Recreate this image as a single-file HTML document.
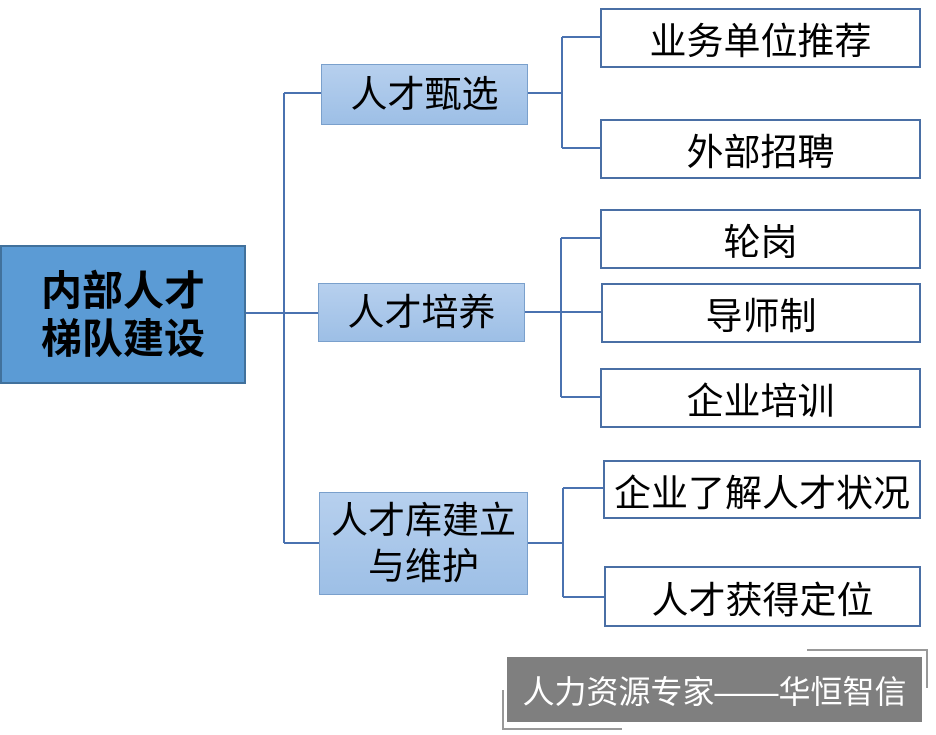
<!DOCTYPE html>
<html><head><meta charset="utf-8"><style>
body{margin:0;width:936px;height:735px;background:#fff;position:relative;overflow:hidden;font-family:"Liberation Sans","Noto Sans CJK SC",sans-serif;}
.b{position:absolute;box-sizing:border-box;display:flex;align-items:center;justify-content:center;text-align:center;color:#000;white-space:nowrap;}
.root{background:#5b9bd5;border:2px solid #41719c;font-weight:bold;font-size:41px;line-height:48px;}
.mid{background:linear-gradient(#b7d0ee,#9dbfe6);border:1.5px solid #7aa0cc;font-size:37px;line-height:46px;}
.leaf{background:#fff;border:2px solid #4a6fa5;font-size:37px;}
</style></head><body>
<svg width="936" height="735" style="position:absolute;left:0;top:0" fill="none" stroke="#4a72b0" stroke-width="2">
<path d="M245 313H318M284 93V543M284 93H321M284 543H319"/>
<path d="M527 93H562M562 37V148M562 37H600M562 148H600"/>
<path d="M524 312H561M561 238V397M561 238H600M561 312H601M561 397H600"/>
<path d="M527 543H563M563 488V597M563 488H603M563 597H604"/>
</svg>
<div class="b root" style="left:0;top:245px;width:246px;height:139px;">内部人才<br>梯队建设</div>
<div class="b mid" style="left:321px;top:64px;width:207px;height:61px;">人才甄选</div>
<div class="b mid" style="left:318px;top:283px;width:207px;height:59px;">人才培养</div>
<div class="b mid" style="left:319px;top:492px;width:209px;height:103px;">人才库建立<br>与维护</div>
<div class="b leaf" style="left:600px;top:8px;width:321px;height:60px;">业务单位推荐</div>
<div class="b leaf" style="left:600px;top:119px;width:321px;height:60px;">外部招聘</div>
<div class="b leaf" style="left:600px;top:209px;width:321px;height:60px;">轮岗</div>
<div class="b leaf" style="left:601px;top:283px;width:320px;height:60px;">导师制</div>
<div class="b leaf" style="left:600px;top:368px;width:321px;height:60px;">企业培训</div>
<div class="b leaf" style="left:603px;top:460px;width:318px;height:59px;">企业了解人才状况</div>
<div class="b leaf" style="left:604px;top:566px;width:317px;height:61px;">人才获得定位</div>
<svg width="936" height="735" style="position:absolute;left:0;top:0" fill="none" stroke="#999" stroke-width="2">
<path d="M807 650H927V688M503 690V729H622"/>
</svg>
<div class="b" style="left:507px;top:657px;width:415px;height:65px;background:#7f7f7f;color:#fff;font-size:32px;">人力资源专家——华恒智信</div>
</body></html>
